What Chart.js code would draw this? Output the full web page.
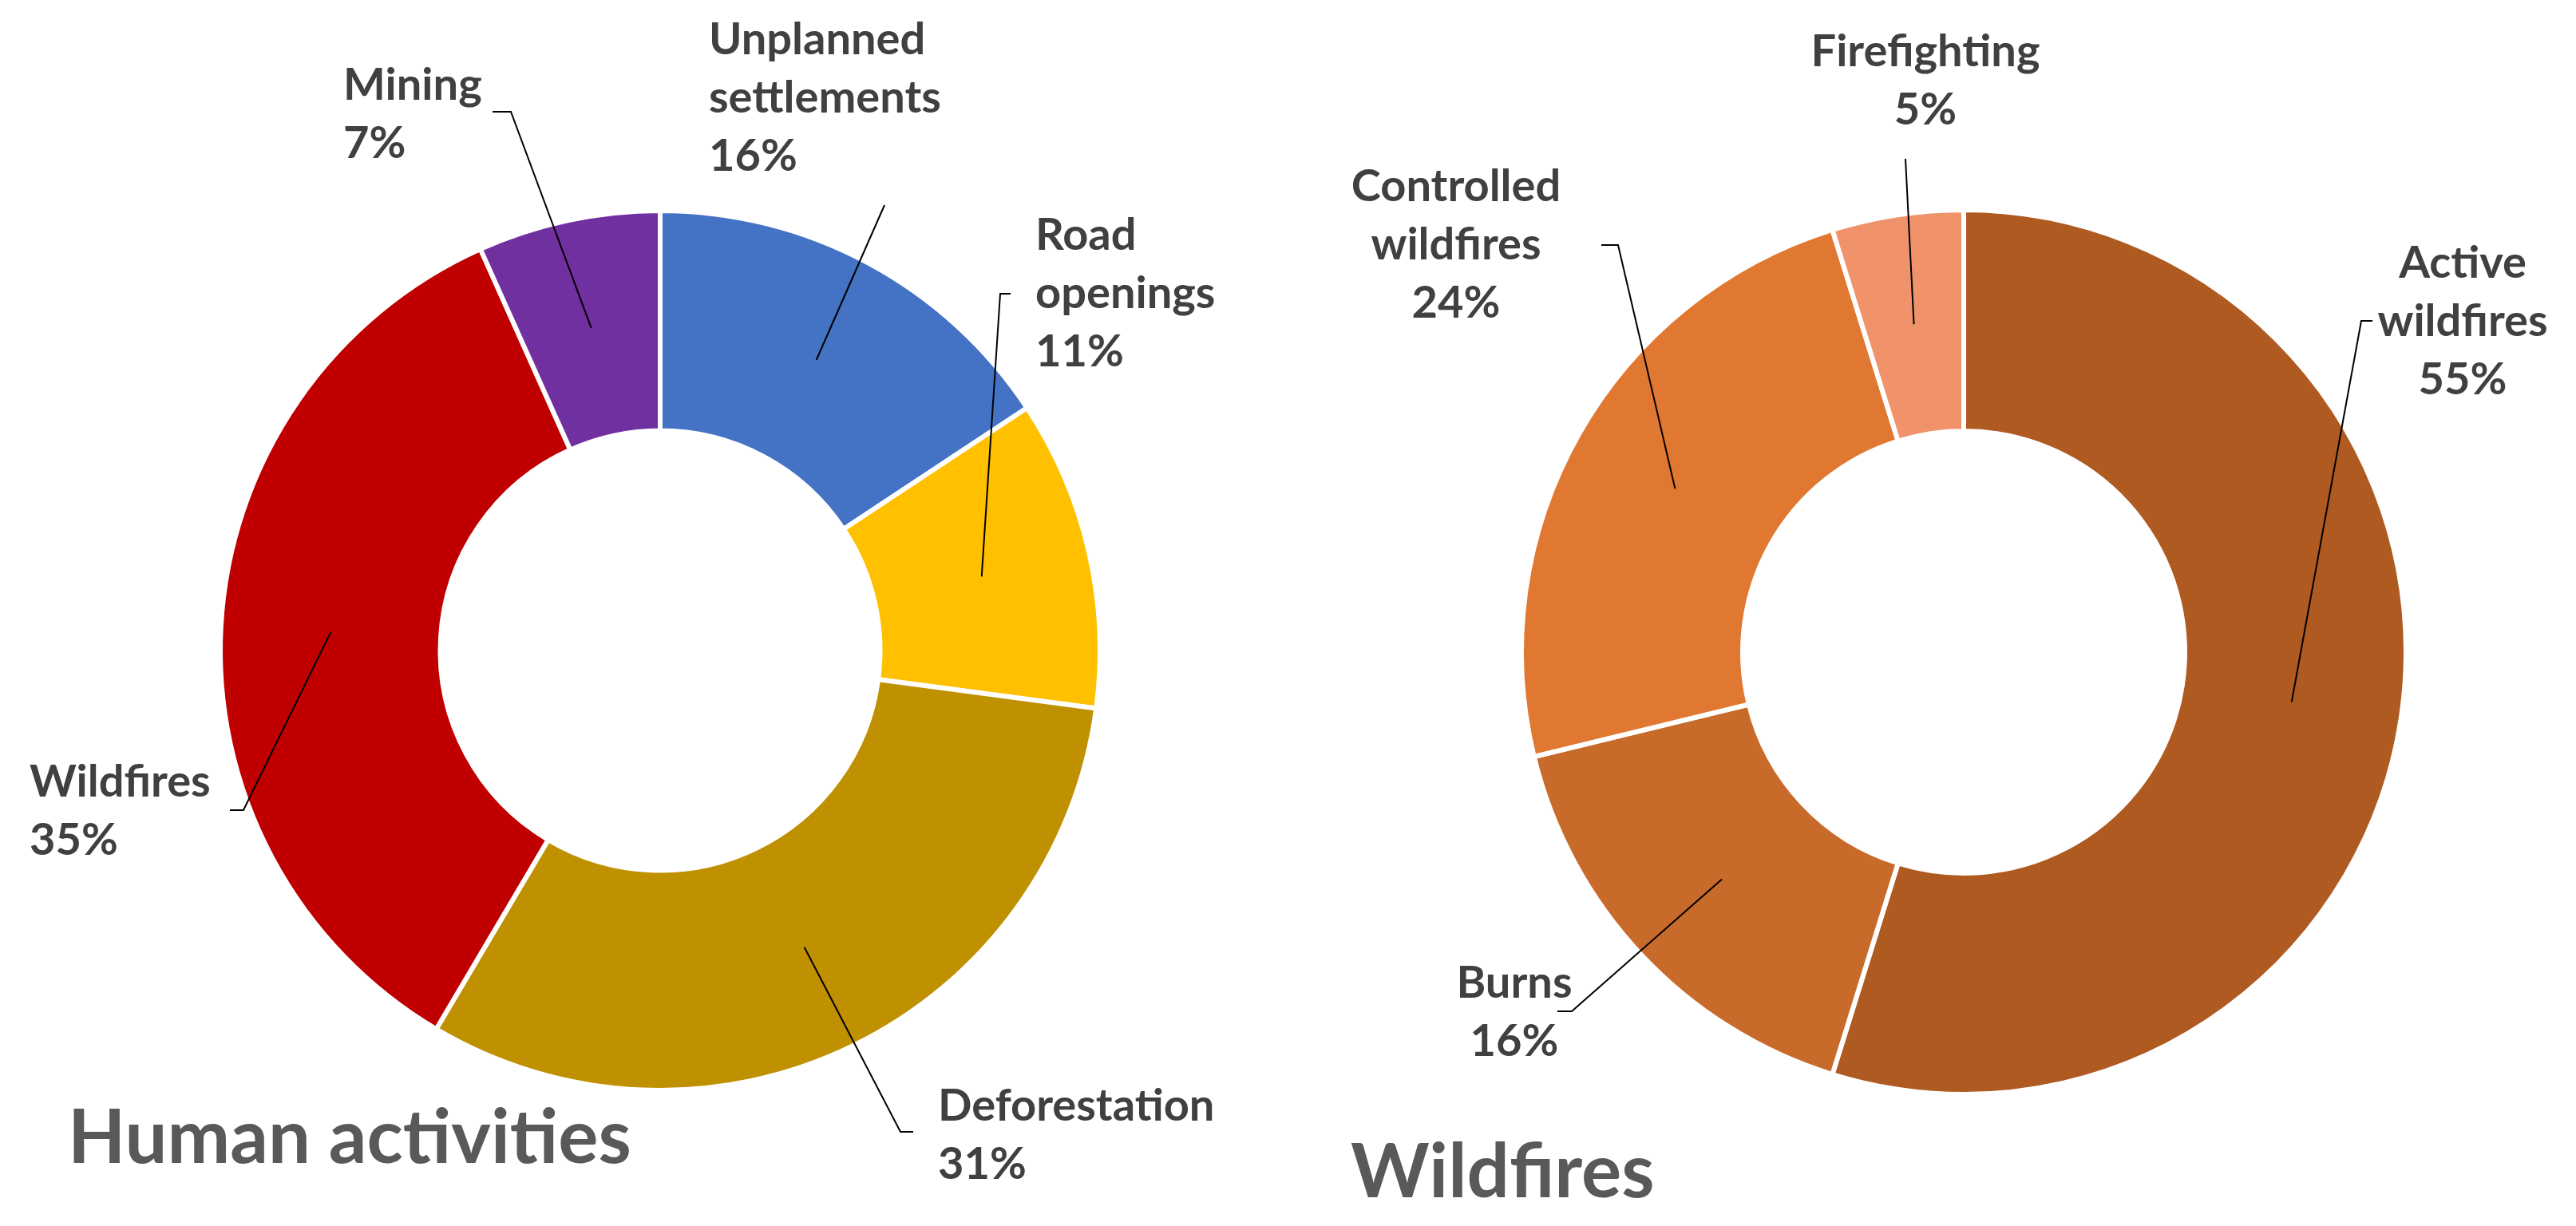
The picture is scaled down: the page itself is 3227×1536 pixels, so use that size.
<!DOCTYPE html>
<html>
<head>
<meta charset="utf-8">
<script src="https://cdn.jsdelivr.net/npm/chart.js@4.4.0/dist/chart.umd.min.js"></script>
<style>
  html, body { margin: 0; padding: 0; background: #fff; }
  body { width: 3227px; height: 1536px; position: relative; overflow: hidden; }
  canvas { position: absolute; top: 0; }
  #human { left: 0; }
  #fires { left: 1614px; }
</style>
</head>
<body>
<canvas id="human" width="1614" height="1536"></canvas>
<canvas id="fires" width="1613" height="1536"></canvas>
<script>
// data (shares; labels show them rounded)
const humanCategories = ['Unplanned settlements', 'Road openings', 'Deforestation', 'Wildfires', 'Mining'];
const humanValues = [15.7, 11.4, 31.4, 34.8, 6.7];
const humanColors = ['#4472C4', '#FFC000', '#BF9000', '#C00000', '#7030A0'];

const fireCategories = ['Active wildfires', 'Burns', 'Controlled wildfires', 'Firefighting'];
const fireValues = [54.8, 16.4, 24.0, 4.8];
const fireColors = ['#AE5A21', '#C86A2A', '#E07831', '#F0936A'];

// how each label is broken over lines (percent line is added from the data)
const humanLabelLines = [['Unplanned', 'settlements'], ['Road', 'openings'], ['Deforestation'], ['Wildfires'], ['Mining']];
const fireLabelLines = [['Active', 'wildfires'], ['Burns'], ['Controlled', 'wildfires'], ['Firefighting']];

// label placement: text anchor + leader line start (tick = [xNearText, xCorner, y])
const humanSpots = [
  { x: 888, y: 68, align: 'left', from: [1108, 257] },
  { x: 1297, y: 313, align: 'left', tick: [1266, 1253, 368] },
  { x: 1175, y: 1404, align: 'left', tick: [1144, 1128, 1418] },
  { x: 37, y: 998, align: 'left', tick: [288, 305, 1015] },
  { x: 430, y: 125, align: 'left', tick: [617, 640, 140] },
];
const fireSpots = [
  { x: 1471, y: 348, align: 'center', tick: [1358, 1344, 402] },
  { x: 283, y: 1250, align: 'center', tick: [337, 355, 1267] },
  { x: 210, y: 252, align: 'center', tick: [392, 413, 307] },
  { x: 798, y: 83, align: 'center', from: [773, 199] },
];

const LABEL_FONT = 'bold 56px Lato';
const TITLE_FONT = 'bold 94px Lato';
const LINE_GAP = 73;

const callouts = {
  id: 'callouts',
  afterDatasetsDraw(chart, args, opts) {
    const { ctx } = chart;
    const meta = chart.getDatasetMeta(0);
    const values = chart.data.datasets[0].data;
    const total = values.reduce((a, b) => a + b, 0);

    ctx.save();
    meta.data.forEach((arc, i) => {
      const p = arc.getProps(['x', 'y', 'startAngle', 'endAngle', 'innerRadius', 'outerRadius'], true);
      const mid = (p.startAngle + p.endAngle) / 2;
      const r = (p.innerRadius + p.outerRadius) / 2;
      const px = p.x + Math.cos(mid) * r;
      const py = p.y + Math.sin(mid) * r;
      const spot = opts.spots[i];

      ctx.strokeStyle = '#000';
      ctx.lineWidth = 2;
      ctx.beginPath();
      if (spot.tick) {
        ctx.moveTo(spot.tick[0], spot.tick[2]);
        ctx.lineTo(spot.tick[1], spot.tick[2]);
      } else {
        ctx.moveTo(spot.from[0], spot.from[1]);
      }
      ctx.lineTo(px, py);
      ctx.stroke();

      const lines = opts.lines[i].concat(Math.round((values[i] / total) * 100) + '%');
      ctx.fillStyle = '#404040';
      ctx.font = LABEL_FONT;
      ctx.textAlign = spot.align;
      ctx.textBaseline = 'alphabetic';
      lines.forEach((t, k) => ctx.fillText(t, spot.x, spot.y + k * LINE_GAP));
    });

    ctx.fillStyle = '#595959';
    ctx.font = TITLE_FONT;
    ctx.textAlign = 'left';
    ctx.fillText(opts.title.text, opts.title.x, opts.title.y);
    ctx.restore();
  },
};

function makeDonut(id, labels, values, colors, padding, callout) {
  return new Chart(document.getElementById(id), {
    type: 'doughnut',
    data: {
      labels,
      datasets: [{
        data: values,
        backgroundColor: colors,
        borderColor: '#fff',
        borderWidth: 6,
        hoverOffset: 0,
      }],
    },
    options: {
      responsive: false,
      animation: false,
      events: [],
      cutout: '50%',
      layout: { padding },
      plugins: {
        legend: { display: false },
        tooltip: { enabled: false },
        callouts: callout,
      },
    },
    plugins: [callouts],
  });
}

makeDonut('human', humanCategories, humanValues, humanColors,
  { left: 273, right: 233, top: 261, bottom: 167 },
  { spots: humanSpots, lines: humanLabelLines, title: { text: 'Human activities', x: 85, y: 1457 } });

makeDonut('fires', fireCategories, fireValues, fireColors,
  { left: 289, right: 210, top: 260, bottom: 162 },
  { spots: fireSpots, lines: fireLabelLines, title: { text: 'Wildfires', x: 78, y: 1500 } });
</script>
</body>
</html>
